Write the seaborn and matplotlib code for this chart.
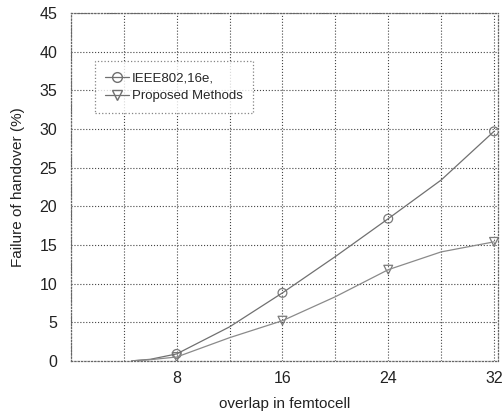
import numpy as np
import pandas as pd
import matplotlib
matplotlib.use("Agg")
import matplotlib.pyplot as plt
import seaborn as sns
from matplotlib.lines import Line2D

# values (curve points; markers only at 8, 16, 24, 32)
overlap = [4.6, 6, 8, 12, 16, 20, 24, 28, 32]
ieee_fail = [0.0, 0.2, 0.9, 4.4, 8.8, 13.5, 18.4, 23.4, 29.7]
proposed_fail = [0.0, 0.15, 0.5, 3.0, 5.2, 8.3, 11.8, 14.1, 15.4]
marker_x = [8, 16, 24, 32]
series_names = ["IEEE802,16e,", "Proposed Methods"]
x_ticks = [8, 16, 24, 32]
y_ticks = list(range(0, 50, 5))

sns.set_style("white")
plt.rcParams['font.family'] = ['Liberation Sans', 'DejaVu Sans']

df = pd.DataFrame({
    'overlap': overlap * 2,
    'fail': ieee_fail + proposed_fail,
    'method': [series_names[0]] * len(overlap) + [series_names[1]] * len(overlap),
})
pts = df[df['overlap'].isin(marker_x)]

fig = plt.figure(figsize=(5.03, 4.11), dpi=100)
ax = fig.add_axes([0.141, 0.122, 0.849, 0.846])

palette = {series_names[0]: '#707070', series_names[1]: '#8a8a8a'}
markers = {series_names[0]: 'o', series_names[1]: 'v'}

sns.lineplot(data=df, x='overlap', y='fail', hue='method', palette=palette,
             linewidth=0.9, legend=False, ax=ax)
sns.scatterplot(data=pts, x='overlap', y='fail', hue='method', style='method',
                markers=markers, palette=palette, s=40, facecolors='none',
                linewidth=0.9, legend=False, ax=ax)
for coll in ax.collections:
    coll.set_facecolor('none')
    coll.set_edgecolor('#7a7a7a')

ax.set_xlim(0, 32.3)
ax.set_ylim(0, 45)
ax.set_xticks(x_ticks)
ax.set_xticks([0, 4, 12, 20, 28], minor=True)
ax.set_yticks(y_ticks)
ax.tick_params(axis='both', which='both', length=0, labelsize=11.5, colors='#222222')
ax.tick_params(axis='y', pad=10)
ax.tick_params(axis='x', pad=7)
ax.grid(True, which='both', linestyle=':', color='#444444', linewidth=0.8)
for s in ax.spines.values():
    s.set_color('#666666')
    s.set_linestyle(':')
    s.set_linewidth(0.9)

ax.set_xlabel('overlap in femtocell', fontsize=11, color='#222222', labelpad=8)
ax.set_ylabel('Failure of handover (%)', fontsize=11, color='#222222', labelpad=10)

handles = [Line2D([0], [0], color='#707070', lw=0.9, marker=m, markerfacecolor='none',
                  markeredgecolor='#707070', markersize=7)
           for m in ['o', 'v']]
leg = ax.legend(handles, series_names, loc='upper left', bbox_to_anchor=(0.04, 0.88),
                fontsize=9.5, frameon=True, fancybox=False, borderpad=0.8,
                handlelength=1.8, handletextpad=0.2, labelspacing=0.45)
leg.get_frame().set_edgecolor('#666666')
leg.get_frame().set_linestyle(':')
leg.get_frame().set_linewidth(0.9)

fig.savefig('out.png', dpi=100)
